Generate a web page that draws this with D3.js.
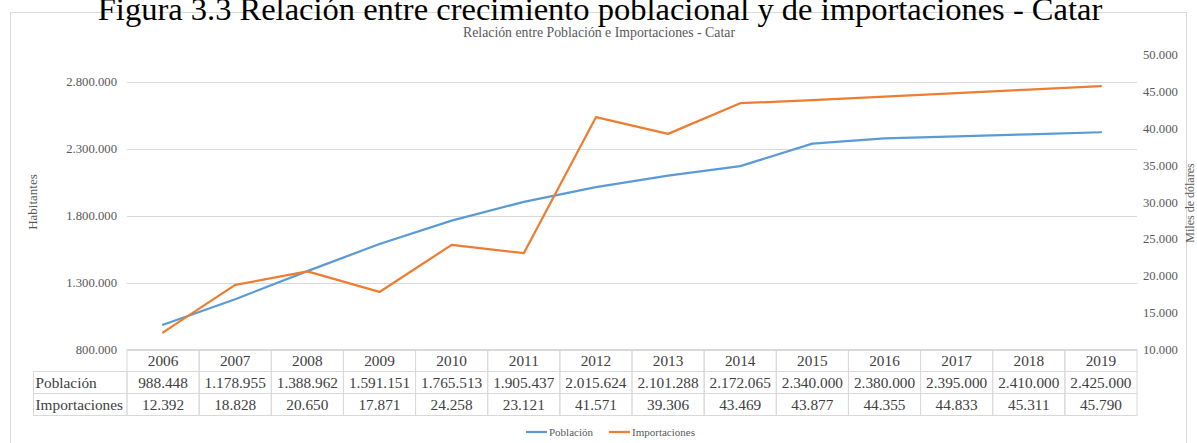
<!DOCTYPE html>
<html>
<head>
<meta charset="utf-8">
<script src="https://cdn.jsdelivr.net/npm/d3@7"></script>
<style>
  html, body { margin: 0; padding: 0; background: #fff; }
  svg { display: block; }
</style>
</head>
<body>
<svg id="chart" width="1197" height="443"></svg>
<script>
const years = ["2006","2007","2008","2009","2010","2011","2012","2013","2014","2015","2016","2017","2018","2019"];
const poblacion = [988448,1178955,1388962,1591151,1765513,1905437,2015624,2101288,2172065,2340000,2380000,2395000,2410000,2425000];
const importaciones = [12392,18828,20650,17871,24258,23121,41571,39306,43469,43877,44355,44833,45311,45790];
const leftTicks = [800000,1300000,1800000,2300000,2800000];
const rightTicks = [10000,15000,20000,25000,30000,35000,40000,45000,50000];
const seriesNames = ["Población","Importaciones"];
const colors = ["#5b9bd5","#ed7d31"];

const fmt = v => d3.format(",")(v).replace(/,/g, ".");
const serif = "'Liberation Serif','Times New Roman',serif";
const svg = d3.select("#chart");

// frame
svg.append("rect").attr("x",10.5).attr("y",12.5).attr("width",1176).attr("height",440)
  .attr("fill","#fff").attr("stroke","#d9d9d9").attr("stroke-width",1);

// big title
svg.append("text").attr("x",600).attr("y",20).attr("text-anchor","middle")
  .attr("font-family",serif).attr("font-size",32.5).attr("fill","#000")
  .text("Figura 3.3 Relación entre crecimiento poblacional y de importaciones - Catar");

// inner title
svg.append("text").attr("x",599).attr("y",32).attr("dy","0.35em").attr("text-anchor","middle")
  .attr("font-family",serif).attr("font-size",13.8).attr("fill","#595959")
  .text("Relación entre Población e Importaciones - Catar");

const x0 = 127, x1 = 1137;
const x = d3.scaleBand().domain(years).range([x0, x1]).padding(0);
const yL = d3.scaleLinear().domain([800000, 2800000]).range([350, 82]);
const yR = d3.scaleLinear().domain([10000, 50000]).range([350, 55]);

// gridlines
svg.append("g").selectAll("line").data(leftTicks).join("line")
  .attr("x1",x0).attr("x2",x1)
  .attr("y1",d=>Math.round(yL(d))+0.5).attr("y2",d=>Math.round(yL(d))+0.5)
  .attr("stroke","#d9d9d9").attr("stroke-width",1);

// left axis labels
svg.append("g").selectAll("text").data(leftTicks).join("text")
  .attr("x",117).attr("y",d=>yL(d)).attr("dy","0.32em").attr("text-anchor","end")
  .attr("font-family",serif).attr("font-size",12.7).attr("fill","#595959")
  .text(d=>fmt(d));
// right axis labels
svg.append("g").selectAll("text").data(rightTicks).join("text")
  .attr("x",1143).attr("y",d=>yR(d)).attr("dy","0.32em").attr("text-anchor","start")
  .attr("font-family",serif).attr("font-size",12.7).attr("fill","#595959")
  .text(d=>fmt(d));

// axis titles
svg.append("text").attr("transform","translate(37,202) rotate(-90)").attr("text-anchor","middle")
  .attr("font-family",serif).attr("font-size",13).attr("fill","#595959").text("Habitantes");
svg.append("text").attr("transform","translate(1194,203) rotate(-90)").attr("text-anchor","middle")
  .attr("font-family",serif).attr("font-size",12).attr("fill","#595959").text("Miles de dólares");

// lines
const cx = d => x(d) + x.bandwidth()/2;
const lineL = d3.line().x((d,i)=>cx(years[i])).y(d=>yL(d));
const lineR = d3.line().x((d,i)=>cx(years[i])).y(d=>yR(d));
svg.append("path").datum(poblacion).attr("d",lineL).attr("fill","none")
  .attr("stroke",colors[0]).attr("stroke-width",2.25).attr("stroke-linejoin","round").attr("stroke-linecap","round");
svg.append("path").datum(importaciones).attr("d",lineR).attr("fill","none")
  .attr("stroke",colors[1]).attr("stroke-width",2.25).attr("stroke-linejoin","round").attr("stroke-linecap","round");

// data table
const rowTop = 349.5, rowH = 22, firstX = 33.5;
const tbl = svg.append("g").attr("font-family",serif).attr("font-size",15.3).attr("fill","#404040");
const bc = "#d9d9d9";
years.forEach(yr => {
  tbl.append("rect").attr("x",x(yr)).attr("y",rowTop).attr("width",x.bandwidth()).attr("height",rowH)
    .attr("fill","none").attr("stroke",bc);
  tbl.append("text").attr("x",cx(yr)).attr("y",rowTop+rowH/2).attr("dy","0.35em")
    .attr("text-anchor","middle").text(yr);
});
const rows = [poblacion, importaciones];
rows.forEach((vals, r) => {
  const yTop = rowTop + rowH*(r+1);
  tbl.append("rect").attr("x",firstX).attr("y",yTop).attr("width",x0-firstX).attr("height",rowH)
    .attr("fill","none").attr("stroke",bc);
  tbl.append("text").attr("x",firstX+2).attr("y",yTop+rowH/2).attr("dy","0.35em")
    .attr("text-anchor","start").text(seriesNames[r]);
  vals.forEach((v,i) => {
    tbl.append("rect").attr("x",x(years[i])).attr("y",yTop).attr("width",x.bandwidth()).attr("height",rowH)
      .attr("fill","none").attr("stroke",bc);
    tbl.append("text").attr("x",cx(years[i])).attr("y",yTop+rowH/2).attr("dy","0.35em")
      .attr("text-anchor","middle").text(fmt(v));
  });
});

// legend
const leg = svg.append("g").attr("font-family",serif).attr("font-size",11).attr("fill","#595959");
const legX = [526, 609];
seriesNames.forEach((n,i)=>{
  leg.append("line").attr("x1",legX[i]).attr("x2",legX[i]+21).attr("y1",432).attr("y2",432)
    .attr("stroke",colors[i]).attr("stroke-width",2.25);
  leg.append("text").attr("x",legX[i]+23).attr("y",432).attr("dy","0.35em").text(n);
});
</script>
</body>
</html>
